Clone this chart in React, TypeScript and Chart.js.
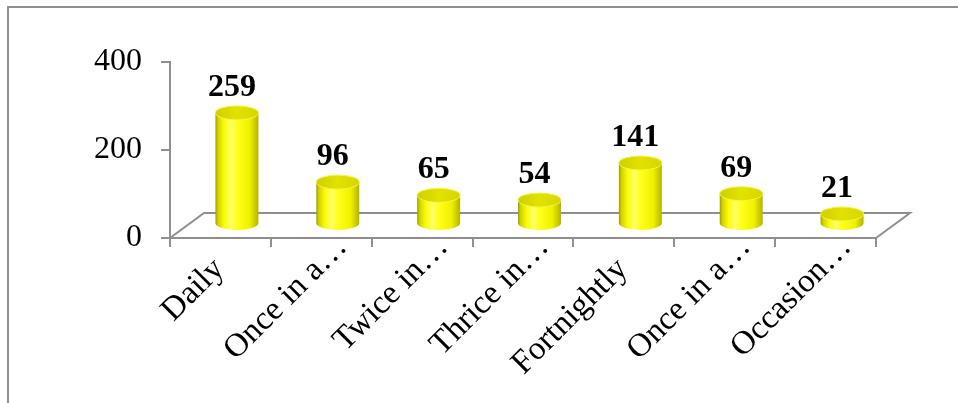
import React, { useEffect, useRef } from 'react';
import { Chart, registerables } from 'chart.js';

Chart.register(...registerables);

const categories = ['Daily', 'Once in a…', 'Twice in…', 'Thrice in…', 'Fortnightly', 'Once in a…', 'Occasion…'];
const counts = [259, 96, 65, 54, 141, 69, 21];
const yMin = 0;
const yMax = 400;
const yStep = 200;

const SERIF = "'Liberation Serif', 'Times New Roman', Tinos, serif";
const GRAY = '#8f8f8f';
const W = 958;
const H = 403;

const cylinderPlugin = {
  id: 'cylinder3d',
  beforeDraw(chart: any) {
    const ctx = chart.ctx;
    ctx.save();
    ctx.fillStyle = '#ffffff';
    ctx.fillRect(0, 0, chart.width, chart.height);
    ctx.strokeStyle = GRAY;
    ctx.lineWidth = 2;
    ctx.beginPath();
    ctx.moveTo(8, chart.height + 2);
    ctx.lineTo(8, 7);
    ctx.lineTo(chart.width + 2, 7);
    ctx.stroke();
    ctx.restore();
  },
  beforeDatasetsDraw(chart: any) {
    const ctx = chart.ctx;
    const a = chart.chartArea;
    const dx = 34;
    const dy = 25;
    ctx.save();
    ctx.strokeStyle = GRAY;
    ctx.lineWidth = 2;
    ctx.beginPath();
    ctx.moveTo(a.left, a.bottom);
    ctx.lineTo(a.left + dx, a.bottom - dy);
    ctx.lineTo(a.right + dx, a.bottom - dy);
    ctx.lineTo(a.right, a.bottom);
    ctx.stroke();
    ctx.restore();
  },
  afterDatasetsDraw(chart: any) {
    const ctx = chart.ctx;
    const xs = chart.scales.x;
    const ys = chart.scales.y;
    const data = chart.data.datasets[0].data as number[];
    const catW = xs.getPixelForTick(1) - xs.getPixelForTick(0);
    const rx = catW * 0.213;
    const ry = 7;
    const zero = ys.getPixelForValue(0);
    ctx.save();
    data.forEach((v, i) => {
      const cx = xs.getPixelForValue(i) + 16.5;
      const yb = zero - 15;
      const h = (zero - ys.getPixelForValue(v)) * 0.966;
      const yt = yb - h;

      const g = ctx.createLinearGradient(cx - rx, 0, cx + rx, 0);
      g.addColorStop(0, '#9c9c00');
      g.addColorStop(0.06, '#d2d200');
      g.addColorStop(0.2, '#fbfb08');
      g.addColorStop(0.36, '#ffff66');
      g.addColorStop(0.52, '#ffff18');
      g.addColorStop(0.8, '#f0f000');
      g.addColorStop(1, '#b4b400');

      ctx.beginPath();
      ctx.moveTo(cx - rx, yt);
      ctx.lineTo(cx - rx, yb);
      ctx.ellipse(cx, yb, rx, ry, 0, Math.PI, 0, true);
      ctx.lineTo(cx + rx, yt);
      ctx.ellipse(cx, yt, rx, ry, 0, 0, Math.PI, true);
      ctx.closePath();
      ctx.fillStyle = g;
      ctx.fill();

      const tg = ctx.createLinearGradient(cx - rx, 0, cx + rx, 0);
      tg.addColorStop(0, '#cfcf00');
      tg.addColorStop(0.5, '#e2e200');
      tg.addColorStop(1, '#d6d600');
      ctx.beginPath();
      ctx.ellipse(cx, yt, rx, ry, 0, 0, Math.PI * 2);
      ctx.fillStyle = tg;
      ctx.fill();
      ctx.lineWidth = 1;
      ctx.strokeStyle = '#f6f640';
      ctx.stroke();

      ctx.fillStyle = '#000000';
      ctx.font = `bold 32px ${SERIF}`;
      ctx.textAlign = 'center';
      ctx.textBaseline = 'alphabetic';
      ctx.fillText(String(v), cx - 5, yt - ry - 10);
    });
    ctx.restore();
  },
};

export default function App() {
  const ref = useRef<HTMLCanvasElement | null>(null);

  useEffect(() => {
    if (!ref.current) return;
    const chart = new Chart(ref.current, {
      type: 'bar',
      data: {
        labels: categories,
        datasets: [
          {
            data: counts,
            backgroundColor: 'rgba(0,0,0,0)',
            borderWidth: 0,
          },
        ],
      },
      options: {
        animation: false,
        responsive: false,
        devicePixelRatio: 1,
        layout: { padding: { left: 0, right: 82, top: 62, bottom: 0 } },
        plugins: {
          legend: { display: false },
          tooltip: { enabled: false },
        },
        scales: {
          x: {
            offset: true,
            grid: {
              display: true,
              offset: true,
              drawOnChartArea: false,
              drawTicks: true,
              tickLength: 9,
              color: GRAY,
              lineWidth: 2,
            },
            border: { display: true, color: GRAY, width: 2 },
            ticks: {
              autoSkip: false,
              minRotation: 45,
              maxRotation: 45,
              padding: -19,
              labelOffset: 21,
              color: '#000000',
              font: { family: SERIF, size: 33 },
              callback: (_v: any, i: number) => {
                const l = categories[i];
                return l.endsWith('…') ? l : l + '   \u2009';
              },
            },
            afterFit: (scale: any) => {
              scale.height = 165;
            },
          },
          y: {
            min: yMin,
            max: yMax,
            grid: {
              display: true,
              drawOnChartArea: false,
              drawTicks: true,
              tickLength: 9,
              color: GRAY,
              lineWidth: 2,
            },
            border: { display: true, color: GRAY, width: 2 },
            ticks: {
              stepSize: yStep,
              padding: 19,
              color: '#000000',
              font: { family: SERIF, size: 32 },
            },
            afterFit: (scale: any) => {
              scale.width = 170;
            },
          },
        },
      },
      plugins: [cylinderPlugin],
    });
    return () => chart.destroy();
  }, []);

  return (
    <div style={{ position: 'absolute', left: 0, top: 0, width: W, height: H, background: '#fff' }}>
      <canvas ref={ref} width={W} height={H} style={{ display: 'block', width: W, height: H }} />
    </div>
  );
}
